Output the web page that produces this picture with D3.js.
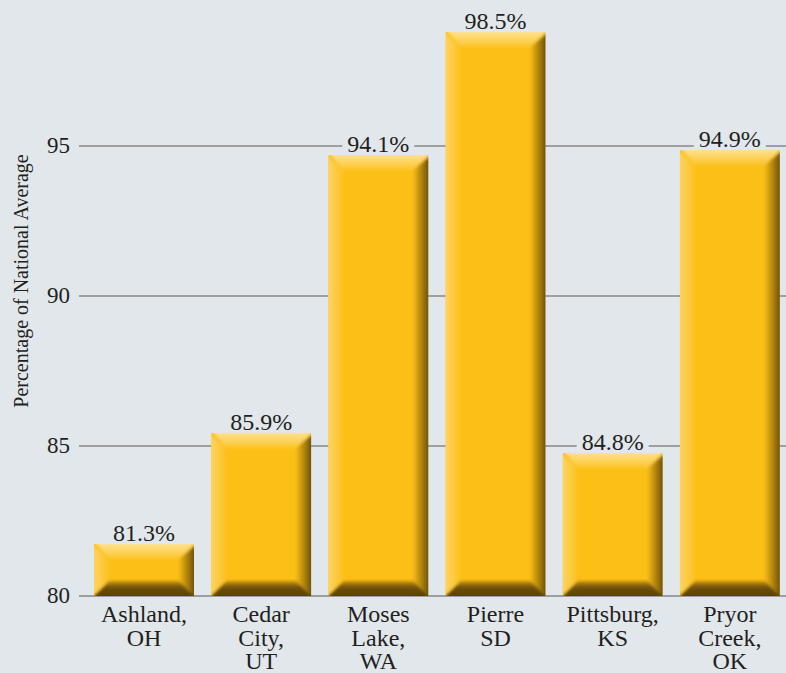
<!DOCTYPE html>
<html>
<head>
<meta charset="utf-8">
<script src="https://cdn.jsdelivr.net/npm/d3@7"></script>
</head>
<body style="margin:0;background:#e2e7eb">
<script>
var width = 786;
var height = 673;

// data
var cities = [["Ashland,", "OH"], ["Cedar", "City,", "UT"], ["Moses", "Lake,", "WA"], ["Pierre", "SD"], ["Pittsburg,", "KS"], ["Pryor", "Creek,", "OK"]];
var barHeights = [81.73, 85.43, 94.7, 98.8, 84.77, 94.87];   // where the bars are drawn
var valueLabels = ["81.3%", "85.9%", "94.1%", "98.5%", "84.8%", "94.9%"];
var ticks = [80, 85, 90, 95];

var bevel = 15;
var serif = "'Liberation Serif', 'Times New Roman'";
var ink = "#231f20";

var svg = d3.select("body").append("svg")
  .attr("width", width)
  .attr("height", height)
  .style("display", "block");

svg.append("rect").attr("width", width).attr("height", height).attr("fill", "#e2e7eb");

var x = d3.scaleBand()
  .domain(d3.range(cities.length))
  .range([85.4, 788.4])
  .paddingInner(0.147)
  .paddingOuter(0.0735);

var y = d3.scaleLinear()
  .domain([80, 95])
  .range([596, 146]);

// gradients for the bevel pieces
var defs = svg.append("defs");
function grad(id, x1, y1, x2, y2, stops) {
  var g = defs.append("linearGradient").attr("id", id)
    .attr("x1", x1).attr("y1", y1).attr("x2", x2).attr("y2", y2);
  stops.forEach(function(s) {
    g.append("stop").attr("offset", s[0]).attr("stop-color", s[1]);
  });
}
grad("topG", 0, 0, 0, 1, [[0, "#fee6a6"], [0.5, "#fdd666"], [1, "#fcc428"]]);
grad("leftG", 0, 0, 1, 0, [[0, "#fdd770"], [0.5, "#fdcc48"], [1, "#fcc11e"]]);
grad("rightG", 0, 0, 1, 0, [[0, "#f5b916"], [0.45, "#b0840c"], [1, "#553e04"]]);
grad("bottomG", 0, 0, 0, 1, [[0, "#c99510"], [0.35, "#6e5107"], [1, "#523c05"]]);

var blur = defs.append("filter").attr("id", "soft")
  .attr("x", "-5%").attr("y", "-5%").attr("width", "110%").attr("height", "110%");
blur.append("feGaussianBlur").attr("stdDeviation", 1.5);

// grid lines
svg.append("g").selectAll("line")
  .data(ticks)
  .enter().append("line")
    .attr("x1", 79)
    .attr("x2", width)
    .attr("y1", function(d) { return y(d); })
    .attr("y2", function(d) { return y(d); })
    .attr("stroke", "#9d9fa1")
    .attr("stroke-width", 2.2);

// tick labels
svg.append("g").selectAll("text")
  .data(ticks)
  .enter().append("text")
    .attr("x", 70)
    .attr("y", function(d) { return y(d) + 7; })
    .attr("text-anchor", "end")
    .style("font-family", serif)
    .style("font-size", "23px")
    .style("fill", ink)
    .text(function(d) { return d; });

// axis title
svg.append("text")
  .attr("transform", "translate(28,281) rotate(-90)")
  .attr("text-anchor", "middle")
  .style("font-family", serif)
  .style("font-size", "20px")
  .style("fill", ink)
  .text("Percentage of National Average");

// bars
var bar = svg.append("g").selectAll("g")
  .data(barHeights)
  .enter().append("g")
    .attr("class", "bar");

bar.each(function(d, i) {
  var g = d3.select(this);
  var x0 = x(i), x1 = x(i) + x.bandwidth();
  var y0 = y(d), y1 = y(80);
  var b = Math.min(bevel, (y1 - y0) / 2);

  g.append("clipPath").attr("id", "clip" + i)
    .append("rect").attr("x", x0).attr("y", y0).attr("width", x1 - x0).attr("height", y1 - y0);

  var inner = g.append("g").attr("clip-path", "url(#clip" + i + ")");

  inner.append("rect")
    .attr("x", x0).attr("y", y0)
    .attr("width", x1 - x0).attr("height", y1 - y0)
    .attr("fill", "#fcbf16");

  var pieces = inner.append("g").attr("filter", "url(#soft)");

  function poly(pts, fill) {
    pieces.append("path")
      .attr("d", "M" + pts.map(function(p) { return p.join(","); }).join("L") + "Z")
      .attr("fill", fill);
  }
  poly([[x0, y0 - 3], [x1 + 3, y0 - 3], [x1 - b, y0 + b], [x0 + b, y0 + b]], "url(#topG)");
  poly([[x0 - 3, y0], [x0 + b, y0 + b], [x0 + b, y1 - b], [x0 - 3, y1]], "url(#leftG)");
  poly([[x1 + 3, y0], [x1 + 3, y1 + 3], [x1 - b, y1 - b], [x1 - b, y0 + b]], "url(#rightG)");
  poly([[x0 - 3, y1 + 3], [x1 + 3, y1 + 3], [x1 - b, y1 - b], [x0 + b, y1 - b]], "url(#bottomG)");
});

// value labels with a background patch over the grid
var lab = svg.append("g").selectAll("g")
  .data(valueLabels)
  .enter().append("g");

lab.append("rect")
  .attr("x", function(d, i) { return x(i) + x.bandwidth() / 2 - 36; })
  .attr("y", function(d, i) { return y(barHeights[i]) - 22; })
  .attr("width", 72)
  .attr("height", 20)
  .attr("fill", "#e2e7eb");

lab.append("text")
  .attr("x", function(d, i) { return x(i) + x.bandwidth() / 2; })
  .attr("y", function(d, i) { return y(barHeights[i]) - 3; })
  .attr("text-anchor", "middle")
  .style("font-family", serif)
  .style("font-size", "24px")
  .style("fill", ink)
  .text(function(d) { return d; });

// category labels
var cat = svg.append("g").selectAll("text")
  .data(cities)
  .enter().append("text")
    .attr("text-anchor", "middle")
    .style("font-family", serif)
    .style("font-size", "24px")
    .style("fill", ink);

cat.selectAll("tspan")
  .data(function(d, i) { return d.map(function(s) { return {s: s, i: i}; }); })
  .enter().append("tspan")
    .attr("x", function(d) { return x(d.i) + x.bandwidth() / 2; })
    .attr("y", function(d, j) { return 622 + j * 23.5; })
    .text(function(d) { return d.s; });
</script>
</body>
</html>
